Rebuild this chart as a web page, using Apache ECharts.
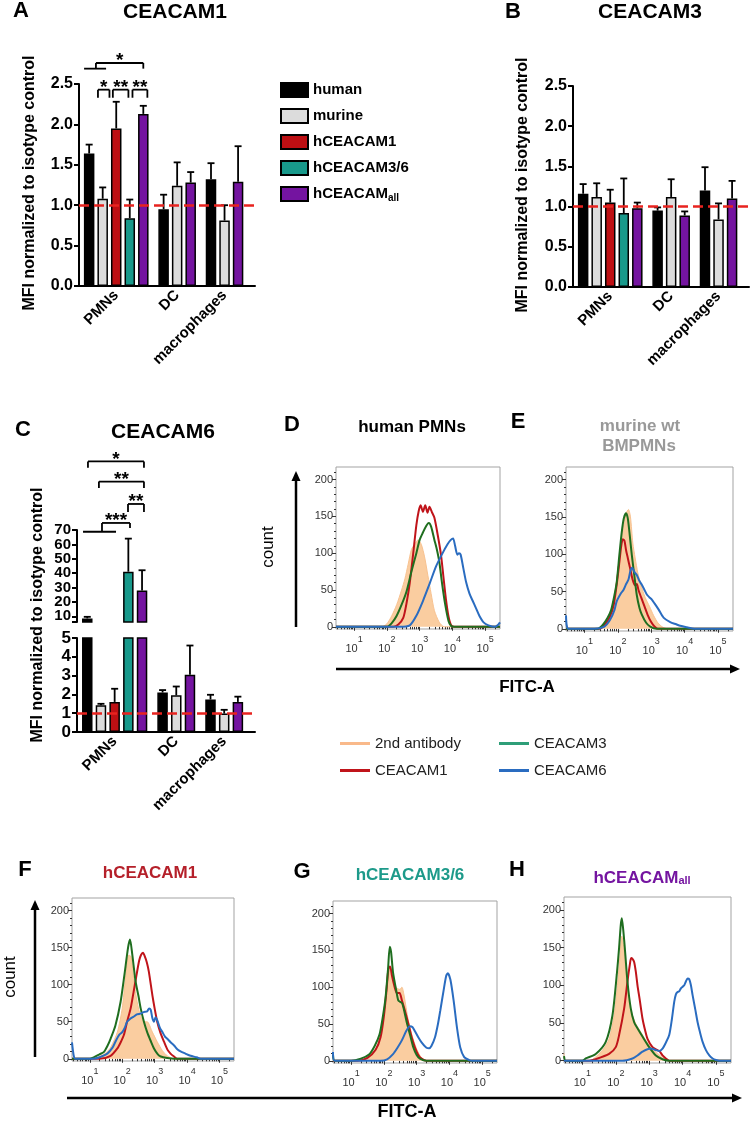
<!DOCTYPE html>
<html>
<head>
<meta charset="utf-8">
<script src="https://cdn.jsdelivr.net/npm/echarts@6/dist/echarts.min.js"></script>
<style>
html, body { margin: 0; background: #fff; }
#chart { width: 750px; height: 1122px; }
</style>
</head>
<body>
<div id="chart"></div>
<script>
const FF = '"Liberation Sans", Arial, sans-serif'

const groups = ['PMNs', 'DC', 'macrophages']
const barNames = ['human', 'murine', 'hCEACAM1', 'hCEACAM3/6', 'hCEACAMall']
const barColors = ['#000000', '#dcdcdc', '#bd0f13', '#18998b', '#7414a0']

// A: CEACAM1, bar height and top of the error bar per group
const aHuman = [1.64, 0.95, 1.32], aHumanErr = [1.75, 1.13, 1.52]
const aMurine = [1.08, 1.24, 0.81], aMurineErr = [1.22, 1.53, 1.00]
const aC1 = [1.95, null, null], aC1Err = [2.28, null, null]
const aC36 = [0.84, null, null], aC36Err = [1.07, null, null]
const aAll = [2.13, 1.28, 1.29], aAllErr = [2.23, 1.41, 1.73]

// B: CEACAM3
const bHuman = [1.16, 0.95, 1.20], bHumanErr = [1.28, 0.99, 1.49]
const bMurine = [1.12, 1.12, 0.84], bMurineErr = [1.29, 1.34, 1.04]
const bC1 = [1.05, null, null], bC1Err = [1.21, null, null]
const bC36 = [0.92, null, null], bC36Err = [1.35, null, null]
const bAll = [0.98, 0.89, 1.10], bAllErr = [1.05, 0.94, 1.32]

// C: CEACAM6 (broken axis)
const cHuman = [8.5, 2.1, 1.73], cHumanErr = [9.6, 2.23, 1.98]
const cMurine = [1.42, 1.95, 0.98], cMurineErr = [1.5, 2.42, 1.18]
const cC1 = [1.6, null, null], cC1Err = [2.3, null, null]
const cC36 = [41, null, null], cC36Err = [64, null, null]
const cAll = [28, 3.04, 1.6], cAllErr = [42, 4.6, 1.88]

// significance brackets: [from slot, to slot, y, left leg to, right leg to, text]
const aBrackets = [
  [0.25, 3.5, 2.69, null, null, ''],
  [2, 9, 2.76, 2.69, 2.69, '*'],
  [2.3, 4.0, 2.43, 2.33, 2.33, '*'],
  [4.5, 6.8, 2.43, 2.33, 2.33, '**'],
  [7.4, 9.6, 2.43, 2.33, 2.33, '**']
]
const cBrackets = [
  [1.1, 9.28, 117.7, 113.3, 113.3, '*'],
  [2.7, 9.28, 103.7, 99.3, 99.3, '**'],
  [6.95, 9.28, 88.1, 82.6, 82.6, '**'],
  [0.38, 5.2, 68.8, null, null, ''],
  [3.15, 7.24, 74.9, 68.8, 71.4, '***']
]

// flow histograms, x in decades (10^x), y = count
const histNames = ['2nd antibody', 'CEACAM1', 'CEACAM3', 'CEACAM6']
const histColors = ['#f8c290', '#c0141a', '#1f6e1f', '#2a6cc0']

const dSecond = [[0.45,0],[1.85,0],[2.0,4],[2.15,15],[2.3,30],[2.45,50],[2.55,65],[2.65,85],[2.75,105],[2.85,112],[2.95,118],[3.05,112],[3.15,95],[3.25,70],[3.35,45],[3.45,22],[3.6,6],[3.75,0],[5.45,0]]
const dC1 = [[0.45,0],[2.2,0],[2.35,3],[2.5,12],[2.6,32],[2.7,60],[2.8,98],[2.9,138],[2.97,157],[3.03,165],[3.1,156],[3.17,165],[3.24,155],[3.3,163],[3.37,156],[3.45,148],[3.55,125],[3.65,98],[3.72,70],[3.8,38],[3.88,14],[3.96,2],[4.05,0],[5.45,0]]
const dC3 = [[0.45,0],[2.0,0],[2.15,5],[2.3,15],[2.45,30],[2.6,48],[2.75,75],[2.9,100],[3.0,118],[3.1,128],[3.2,137],[3.28,141],[3.35,136],[3.45,118],[3.52,106],[3.6,88],[3.68,60],[3.78,30],[3.88,8],[3.96,1],[4.05,0],[5.45,0]]
const dC6 = [[0.45,0],[2.4,0],[2.7,2],[2.9,15],[3.1,35],[3.3,58],[3.5,82],[3.7,100],[3.85,112],[3.95,118],[4.02,120],[4.08,110],[4.15,98],[4.2,100],[4.25,98],[4.33,80],[4.42,60],[4.52,45],[4.62,35],[4.72,25],[4.82,15],[4.95,6],[5.1,2],[5.3,0],[5.4,3],[5.45,6]]

const eSecond = [[0.45,0],[1.5,0],[1.65,5],[1.8,22],[1.92,50],[2.02,85],[2.1,115],[2.18,140],[2.25,155],[2.32,160],[2.38,150],[2.45,115],[2.52,95],[2.6,75],[2.7,58],[2.82,42],[2.95,30],[3.07,18],[3.2,8],[3.35,2],[3.5,0],[5.45,0]]
const eC1 = [[0.45,0],[1.45,0],[1.6,5],[1.75,15],[1.87,30],[1.97,60],[2.05,90],[2.1,110],[2.15,120],[2.2,118],[2.25,105],[2.3,95],[2.37,81],[2.45,65],[2.52,58],[2.57,60],[2.62,52],[2.7,42],[2.8,30],[2.9,18],[3.0,9],[3.1,3],[3.2,0],[5.45,0]]
const eC3 = [[0.45,0],[1.4,0],[1.55,5],[1.7,15],[1.8,25],[1.9,45],[1.97,63],[2.05,100],[2.12,130],[2.18,148],[2.25,155],[2.3,148],[2.36,125],[2.42,99],[2.5,70],[2.57,45],[2.65,28],[2.72,19],[2.85,8],[2.97,3],[3.15,0],[5.45,0]]
const eC6 = [[0.45,18],[0.47,5],[0.52,0],[1.3,0],[1.6,3],[1.77,12],[1.9,25],[1.97,37],[2.1,48],[2.17,52],[2.25,60],[2.32,66],[2.38,78],[2.43,82],[2.5,76],[2.57,72],[2.65,64],[2.72,59],[2.8,52],[2.87,46],[2.95,42],[3.02,39],[3.1,34],[3.22,26],[3.37,15],[3.57,9],[3.75,6],[3.87,4],[4.07,2],[4.3,0],[5.45,0]]

const fSecond = [[0.45,0],[1.1,0],[1.3,3],[1.5,8],[1.65,16],[1.85,36],[2.0,68],[2.1,109],[2.2,140],[2.27,138],[2.36,105],[2.46,77],[2.57,57],[2.69,50],[2.77,50],[2.93,36],[3.08,23],[3.24,11],[3.39,4],[3.6,0],[5.45,0]]
const fC1 = [[0.45,0],[1.3,0],[1.64,4],[1.85,14],[1.95,22],[2.05,32],[2.15,50],[2.26,68],[2.35,90],[2.41,105],[2.52,132],[2.58,140],[2.64,143],[2.7,138],[2.76,130],[2.82,118],[2.93,86],[3.0,68],[3.08,50],[3.18,35],[3.29,23],[3.4,12],[3.49,7],[3.6,3],[3.7,0],[5.45,0]]
const fC3 = [[0.45,0],[1.0,0],[1.12,2],[1.3,6],[1.43,9],[1.55,18],[1.64,27],[1.79,45],[1.95,77],[2.07,114],[2.18,150],[2.24,161],[2.31,141],[2.41,105],[2.5,85],[2.57,68],[2.67,50],[2.77,36],[2.88,24],[2.98,14],[3.1,6],[3.19,3],[3.39,1],[3.6,0],[5.45,0]]
const fC6 = [[0.45,22],[0.5,5],[0.55,0],[1.1,0],[1.3,2],[1.54,7],[1.7,15],[1.79,23],[1.9,32],[2.0,36],[2.08,42],[2.15,50],[2.25,54],[2.36,57],[2.45,60],[2.57,61],[2.66,63],[2.77,64],[2.83,68],[2.88,66],[2.93,55],[2.98,50],[3.03,56],[3.08,52],[3.16,42],[3.24,36],[3.32,30],[3.39,27],[3.5,22],[3.6,18],[3.7,13],[3.8,10],[3.95,7],[4.11,4],[4.3,2],[4.42,0],[5.45,0]]

const gSecond = [[0.45,0],[1.2,0],[1.5,5],[1.77,18],[1.92,40],[2.03,72],[2.13,113],[2.2,126],[2.28,113],[2.38,99],[2.49,97],[2.55,100],[2.62,88],[2.74,56],[2.85,36],[3.0,16],[3.15,4],[3.31,0],[5.45,0]]
const gC1 = [[0.45,0],[1.2,0],[1.5,4],[1.75,15],[1.9,32],[2.0,60],[2.08,95],[2.14,125],[2.19,128],[2.25,115],[2.33,100],[2.4,92],[2.48,92],[2.55,82],[2.63,70],[2.75,50],[2.85,32],[2.95,18],[3.05,8],[3.15,3],[3.3,0],[5.45,0]]
const gC3 = [[0.45,8],[0.5,0],[1.0,0],[1.3,3],[1.56,9],[1.72,20],[1.87,36],[1.97,60],[2.05,85],[2.13,126],[2.18,155],[2.22,148],[2.28,120],[2.38,95],[2.44,82],[2.5,80],[2.56,78],[2.61,70],[2.7,52],[2.8,35],[2.9,18],[3.0,8],[3.1,3],[3.3,0],[5.45,0]]
const gC6 = [[0.45,12],[0.5,0],[1.9,0],[2.1,2],[2.28,9],[2.42,18],[2.54,27],[2.69,41],[2.79,47],[2.87,46],[2.95,40],[3.05,32],[3.15,25],[3.29,18],[3.38,17],[3.45,20],[3.56,32],[3.65,50],[3.72,68],[3.82,95],[3.9,115],[3.95,119],[4.03,110],[4.13,81],[4.23,45],[4.33,18],[4.45,5],[4.6,1],[4.7,0],[5.45,0]]

const hSecond = [[0.45,10],[0.48,0],[1.2,0],[1.6,14],[1.8,29],[1.95,60],[2.05,100],[2.13,140],[2.18,165],[2.24,150],[2.3,118],[2.4,78],[2.5,60],[2.6,49],[2.75,38],[2.9,27],[3.05,18],[3.2,12],[3.4,4],[3.6,0],[5.45,0]]
const hC1 = [[0.45,0],[1.2,0],[1.4,2],[1.8,9],[2.0,18],[2.1,34],[2.25,69],[2.35,105],[2.42,127],[2.46,136],[2.5,135],[2.55,131],[2.6,118],[2.65,100],[2.72,80],[2.8,56],[2.88,40],[2.95,29],[3.1,18],[3.25,14],[3.32,12],[3.4,7],[3.5,3],[3.6,0],[5.45,0]]
const hC3 = [[0.45,6],[0.5,0],[1.0,0],[1.1,3],[1.4,9],[1.7,25],[1.9,60],[2.03,114],[2.1,150],[2.15,180],[2.18,189],[2.22,175],[2.27,150],[2.35,105],[2.45,69],[2.55,51],[2.65,43],[2.8,32],[3.0,18],[3.2,7],[3.4,2],[3.6,0],[5.45,0]]
const hC6 = [[0.45,0],[2.2,0],[2.5,3],[2.65,7],[2.8,12],[3.0,16],[3.1,16],[3.2,14],[3.3,13],[3.4,16],[3.5,24],[3.6,34],[3.68,55],[3.75,78],[3.8,88],[3.85,91],[3.9,92],[3.95,96],[4.0,98],[4.05,100],[4.1,105],[4.15,109],[4.2,108],[4.25,100],[4.3,87],[4.38,68],[4.45,51],[4.52,38],[4.6,25],[4.7,14],[4.8,7],[4.9,3],[5.0,1],[5.1,0],[5.45,0]]

const histTicks = [1, 2, 3, 4, 5]
const countTicks = [0, 50, 100, 150, 200]
const cTopTicks = [10, 20, 30, 40, 50, 60, 70]

// ---------- layout helpers ----------
const aMeans = [aHuman, aMurine, aC1, aC36, aAll]
const aErrs = [aHumanErr, aMurineErr, aC1Err, aC36Err, aAllErr]
const bMeans = [bHuman, bMurine, bC1, bC36, bAll]
const bErrs = [bHumanErr, bMurineErr, bC1Err, bC36Err, bAllErr]
const cMeans = [cHuman, cMurine, cC1, cC36, cAll]
const cErrs = [cHumanErr, cMurineErr, cC1Err, cC36Err, cAllErr]

// bars sit on every second half-slot, groups separated by a small gap
function slotLayout(means){
  let pos = means.map(() => []), ticks = [], s = 1
  groups.forEach((g, gi) => {
    let first = -1, last = -1
    means.forEach((m, si) => {
      if (m[gi] == null) return
      if (first >= 0) s += 2
      pos[si][gi] = s
      if (first < 0) first = s
      last = s
    })
    ticks.push((first + last) / 2)
    s += 3
  })
  return {pos, ticks, count: s}
}
const slots = slotLayout(aMeans)
const slotNames = Array.from({length: slots.count}, (_, i) => {
  let k = slots.ticks.indexOf(i)
  return k >= 0 ? groups[k] : 's' + i
})
const isTick = i => slots.ticks.includes(i)

function toSlots(m, si){
  let d = slotNames.map(() => '-')
  m.forEach((v, gi) => { if (v != null) d[slots.pos[si][gi]] = v })
  return d
}

function catAxis(gi, show){
  return {
    gridIndex: gi, type: 'category', data: slotNames, show,
    axisLine: {lineStyle: {color: '#000', width: 2}},
    axisTick: {alignWithLabel: true, interval: isTick, length: 5, lineStyle: {color: '#000', width: 2}},
    axisLabel: {interval: isTick, rotate: 45, margin: 7, color: '#000', fontWeight: 'bold', fontSize: 15, fontFamily: FF}
  }
}

function valAxis(gi, opt){
  return Object.assign({
    gridIndex: gi, type: 'value', splitLine: {show: false},
    axisLine: {show: true, lineStyle: {color: '#000', width: 2}},
    axisTick: {show: true, length: 5, lineStyle: {color: '#000', width: 2}},
    axisLabel: {color: '#000', fontWeight: 'bold', fontSize: 16, margin: 6, fontFamily: FF}
  }, opt)
}

const dashLine = {
  silent: true, symbol: 'none', label: {show: false}, z: 10,
  lineStyle: {color: '#e8231f', type: [10, 5], width: 2.5},
  data: [{yAxis: 1}]
}

function barSeries(means, xi, yi, withLine){
  return means.map((m, si) => ({
    name: barNames[si], type: 'bar', xAxisIndex: xi, yAxisIndex: yi,
    data: toSlots(m, si), barWidth: 10.5, barGap: '-100%', silent: true,
    itemStyle: {color: barColors[si], borderColor: '#000', borderWidth: 1.5},
    markLine: withLine && si == 4 ? dashLine : undefined
  }))
}

function errSeries(means, errs, xi, yi, keep){
  let data = []
  means.forEach((m, si) => m.forEach((v, gi) => {
    if (v == null || !keep(v, errs[si][gi])) return
    data.push([slots.pos[si][gi], v, errs[si][gi]])
  }))
  return {
    type: 'custom', xAxisIndex: xi, yAxisIndex: yi, clip: true, silent: true, z: 3, data,
    renderItem: (p, api) => {
      let a = api.coord([api.value(0), api.value(1)])
      let b = api.coord([api.value(0), api.value(2)])
      let st = {stroke: '#000', lineWidth: 1.8}
      return {type: 'group', children: [
        {type: 'line', shape: {x1: a[0], y1: a[1], x2: b[0], y2: b[1]}, style: st},
        {type: 'line', shape: {x1: b[0] - 3.5, y1: b[1], x2: b[0] + 3.5, y2: b[1]}, style: st}
      ]}
    }
  }
}

function bracketSeries(list, xi, yi){
  return {
    type: 'custom', xAxisIndex: xi, yAxisIndex: yi, silent: true, z: 4,
    data: list.map(b => [0, b[2]]),
    renderItem: (p, api) => {
      let b = list[p.dataIndex]
      let x0 = api.coord([0, b[2]])[0], bw = api.size([1, 0])[0]
      let px = s => x0 + s * bw
      let py = v => api.coord([0, v])[1]
      let y = py(b[2]), xa = px(b[0]), xb = px(b[1])
      let st = {stroke: '#000', lineWidth: 1.8}
      let ch = [{type: 'line', shape: {x1: xa, y1: y, x2: xb, y2: y}, style: st}]
      if (b[3] != null) ch.push({type: 'line', shape: {x1: xa, y1: y, x2: xa, y2: py(b[3])}, style: st})
      if (b[4] != null) ch.push({type: 'line', shape: {x1: xb, y1: y, x2: xb, y2: py(b[4])}, style: st})
      if (b[5]) ch.push({type: 'text', x: (xa + xb) / 2, y: y - 2, style: {
        text: b[5], font: 'bold 19px ' + FF, fill: '#000',
        align: 'center', verticalAlign: 'middle', textAlign: 'center', textVerticalAlign: 'middle'}})
      return {type: 'group', children: ch}
    }
  }
}

// ---------- histogram helpers ----------
const minorX = []
for (let n = 0; n <= 5; n++) for (let k = 2; k <= 9; k++) {
  let v = n + Math.log10(k)
  if (v > 0.45 && v < 5.45) minorX.push(v)
}
const minorY = []
for (let v = 10; v <= 210; v += 10) if (v % 50) minorY.push(v)

const histRects = [
  {left: 336, top: 467, width: 164, height: 162},
  {left: 566, top: 467, width: 167, height: 164},
  {left: 72, top: 898, width: 162, height: 163},
  {left: 333, top: 901, width: 164, height: 162},
  {left: 564, top: 897, width: 167, height: 166}
]
const histData = [
  [dSecond, dC1, dC3, dC6],
  [eSecond, eC1, eC3, eC6],
  [fSecond, fC1, fC3, fC6],
  [gSecond, gC1, gC3, gC6],
  [hSecond, hC1, hC3, hC6]
]

let grid = [
  {left: 79, top: 84, width: 176, height: 202},
  {left: 573, top: 86, width: 176, height: 201},
  {left: 77, top: 530, width: 178, height: 92},
  {left: 77, top: 638, width: 178, height: 94}
]
let xAxis = [catAxis(0, true), catAxis(1, true), catAxis(2, false), catAxis(3, true)]
let cTopLabel = {showMinLabel: true, showMaxLabel: true, color: '#000', fontWeight: 'bold', fontSize: 15, margin: 6, fontFamily: FF}
let yAxis = [
  valAxis(0, {min: 0, max: 2.5, interval: 0.5,
    axisLabel: {formatter: v => v.toFixed(1), color: '#000', fontWeight: 'bold', fontSize: 16, margin: 6, fontFamily: FF}}),
  valAxis(1, {min: 0, max: 2.5, interval: 0.5,
    axisLabel: {formatter: v => v.toFixed(1), color: '#000', fontWeight: 'bold', fontSize: 16, margin: 6, fontFamily: FF}}),
  valAxis(2, {min: 6, max: 70, position: 'left',
    axisTick: {show: true, length: 5, customValues: [6].concat(cTopTicks), lineStyle: {color: '#000', width: 2}},
    axisLabel: Object.assign({customValues: cTopTicks.filter((v, i) => i % 2 == 0)}, cTopLabel)}),
  valAxis(3, {min: 0, max: 5, interval: 1,
    axisLabel: {color: '#000', fontWeight: 'bold', fontSize: 17, margin: 6, fontFamily: FF}}),
  // second label row for the upper part of C, so that close labels are not dropped
  {gridIndex: 2, type: 'value', min: 6, max: 70, position: 'left', splitLine: {show: false},
    axisLine: {show: false}, axisTick: {show: false},
    axisLabel: Object.assign({customValues: cTopTicks.filter((v, i) => i % 2 == 1)}, cTopLabel)}
]
let series = [
  ...barSeries(aMeans, 0, 0, true), errSeries(aMeans, aErrs, 0, 0, () => true), bracketSeries(aBrackets, 0, 0),
  ...barSeries(bMeans, 1, 1, true), errSeries(bMeans, bErrs, 1, 1, () => true),
  ...barSeries(cMeans, 2, 2, false), errSeries(cMeans, cErrs, 2, 2, (v, e) => e > 6), bracketSeries(cBrackets, 2, 2),
  ...barSeries(cMeans, 3, 3, true), errSeries(cMeans, cErrs, 3, 3, v => v <= 5)
]

histRects.forEach((r, h) => {
  let gi = grid.length
  grid.push(Object.assign({show: true, borderColor: '#a3a3a3', borderWidth: 1}, r))
  let xi = xAxis.length, yi = yAxis.length
  let tickStyle = {color: '#333', width: 1}
  xAxis.push({
    gridIndex: gi, type: 'value', position: 'bottom', min: 0.45, max: 5.45, splitLine: {show: false}, axisLine: {show: false},
    axisTick: {show: true, length: 4, customValues: histTicks, lineStyle: tickStyle},
    axisLabel: {customValues: histTicks, margin: 6, formatter: v => '{b|10}{s|' + v + '}',
      rich: {
        b: {fontSize: 11, color: '#333', lineHeight: 19, verticalAlign: 'bottom', fontFamily: FF},
        s: {fontSize: 9, color: '#333', lineHeight: 19, verticalAlign: 'top', fontFamily: FF}
      }}
  })
  xAxis.push({
    gridIndex: gi, type: 'value', position: 'bottom', min: 0.45, max: 5.45, splitLine: {show: false}, axisLine: {show: false},
    axisTick: {show: true, length: 2.5, customValues: minorX, lineStyle: tickStyle}, axisLabel: {show: false}
  })
  yAxis.push({
    gridIndex: gi, type: 'value', position: 'left', min: -3, max: 217, splitLine: {show: false}, axisLine: {show: false},
    axisTick: {show: true, length: 4, customValues: countTicks, lineStyle: tickStyle},
    axisLabel: {customValues: countTicks, fontSize: 11, color: '#333', margin: 3, fontFamily: FF}
  })
  yAxis.push({
    gridIndex: gi, type: 'value', position: 'left', min: -3, max: 217, splitLine: {show: false}, axisLine: {show: false},
    axisTick: {show: true, length: 2, customValues: minorY, lineStyle: tickStyle}, axisLabel: {show: false}
  })
  histData[h].forEach((c, k) => {
    series.push({
      name: histNames[k], type: 'line', xAxisIndex: xi, yAxisIndex: yi, data: c,
      showSymbol: false, smooth: 0.25, silent: true, z: 2 + k,
      lineStyle: {color: histColors[k], width: k == 0 ? 1 : 2},
      itemStyle: {color: histColors[k]},
      areaStyle: k == 0 ? {color: '#fac896', opacity: 0.9} : undefined
    })
  })
})
grid.forEach(g => { g.outerBoundsMode = 'none'; g.containLabel = false })

// ---------- texts and arrows ----------
function txt(text, x, y, size, opt){
  opt = opt || {}
  return {
    type: 'text', x, y, rotation: opt.rot || 0, silent: true,
    style: {
      text, fill: opt.color || '#000', font: (opt.weight || 'bold') + ' ' + size + 'px ' + FF,
      align: 'center', verticalAlign: 'middle', textAlign: 'center', textVerticalAlign: 'middle',
      rich: opt.rich
    }
  }
}
function arrow(x1, y1, x2, y2){
  let ang = Math.atan2(y2 - y1, x2 - x1), L = 10, W = 4.5
  let hx = x2 - L * Math.cos(ang), hy = y2 - L * Math.sin(ang)
  let nx = -Math.sin(ang) * W, ny = Math.cos(ang) * W
  return [
    {type: 'line', silent: true, shape: {x1, y1, x2: hx, y2: hy}, style: {stroke: '#000', lineWidth: 2.5}},
    {type: 'polygon', silent: true, shape: {points: [[x2, y2], [hx + nx, hy + ny], [hx - nx, hy - ny]]}, style: {fill: '#000'}}
  ]
}
const subRich = {sub: {fontSize: 11, fontWeight: 'bold', fill: '#7414a0', color: '#7414a0', verticalAlign: 'bottom', lineHeight: 12, fontFamily: FF}}
const yName = 'MFI normalized to isotype control'

let graphic = [
  txt('A', 21, 11, 22), txt('CEACAM1', 175, 12, 21),
  txt('B', 513, 12, 22), txt('CEACAM3', 650, 12, 21),
  txt('C', 23, 430, 22), txt('CEACAM6', 163, 432, 21),
  txt(yName, 30, 183, 16, {rot: Math.PI / 2}),
  txt(yName, 523, 185, 16, {rot: Math.PI / 2}),
  txt(yName, 38, 615, 16, {rot: Math.PI / 2}),
  txt('D', 292, 425, 22), txt('human PMNs', 412, 427, 17),
  txt('E', 518, 422, 22), txt('murine wt', 640, 426, 17, {color: '#999'}), txt('BMPMNs', 639, 446, 17, {color: '#999'}),
  txt('count', 268, 547, 17, {rot: Math.PI / 2, weight: 'normal'}),
  txt('FITC-A', 527, 687, 17),
  txt('F', 25, 870, 22), txt('hCEACAM1', 150, 873, 17, {color: '#b5202a'}),
  txt('G', 302, 872, 22), txt('hCEACAM3/6', 410, 875, 17, {color: '#1d9a8a'}),
  txt('H', 517, 870, 22), txt('hCEACAM{sub|all}', 642, 878, 17, {color: '#7414a0', rich: subRich}),
  txt('count', 10, 977, 17, {rot: Math.PI / 2, weight: 'normal'}),
  txt('FITC-A', 407, 1112, 18),
  ...arrow(296, 627, 296, 471),
  ...arrow(336, 669, 740, 669),
  ...arrow(35, 1057, 35, 900),
  ...arrow(67, 1098, 742, 1098)
]

let legend = [
  {
    data: barNames, orient: 'vertical', left: 275, top: 76, itemWidth: 27, itemHeight: 14, itemGap: 8,
    icon: 'rect', selectedMode: false, itemStyle: {borderColor: '#000', borderWidth: 2},
    formatter: n => n == 'hCEACAMall' ? 'hCEACAM{sub|all}' : n,
    textStyle: {fontWeight: 'bold', fontSize: 15, color: '#000', fontFamily: FF, lineHeight: 18,
      rich: {sub: {fontSize: 10, fontWeight: 'bold', color: '#000', verticalAlign: 'bottom', lineHeight: 10, fontFamily: FF}}}
  },
  {
    data: [{name: '2nd antibody', itemStyle: {color: '#f9b98a'}}, {name: 'CEACAM1'}],
    orient: 'vertical', left: 335, top: 731, itemWidth: 30, itemHeight: 3, itemGap: 12, icon: 'rect', selectedMode: false,
    textStyle: {fontSize: 15, color: '#222', fontFamily: FF}
  },
  {
    data: [{name: 'CEACAM3', itemStyle: {color: '#2e9e78'}}, {name: 'CEACAM6'}],
    orient: 'vertical', left: 494, top: 731, itemWidth: 30, itemHeight: 3, itemGap: 12, icon: 'rect', selectedMode: false,
    textStyle: {fontSize: 15, color: '#222', fontFamily: FF}
  }
]

let myChart = echarts.init(document.getElementById('chart'))
myChart.setOption({
  animation: false,
  backgroundColor: '#fff',
  textStyle: {fontFamily: FF},
  grid, xAxis, yAxis, series, legend, graphic
})
</script>
</body>
</html>
